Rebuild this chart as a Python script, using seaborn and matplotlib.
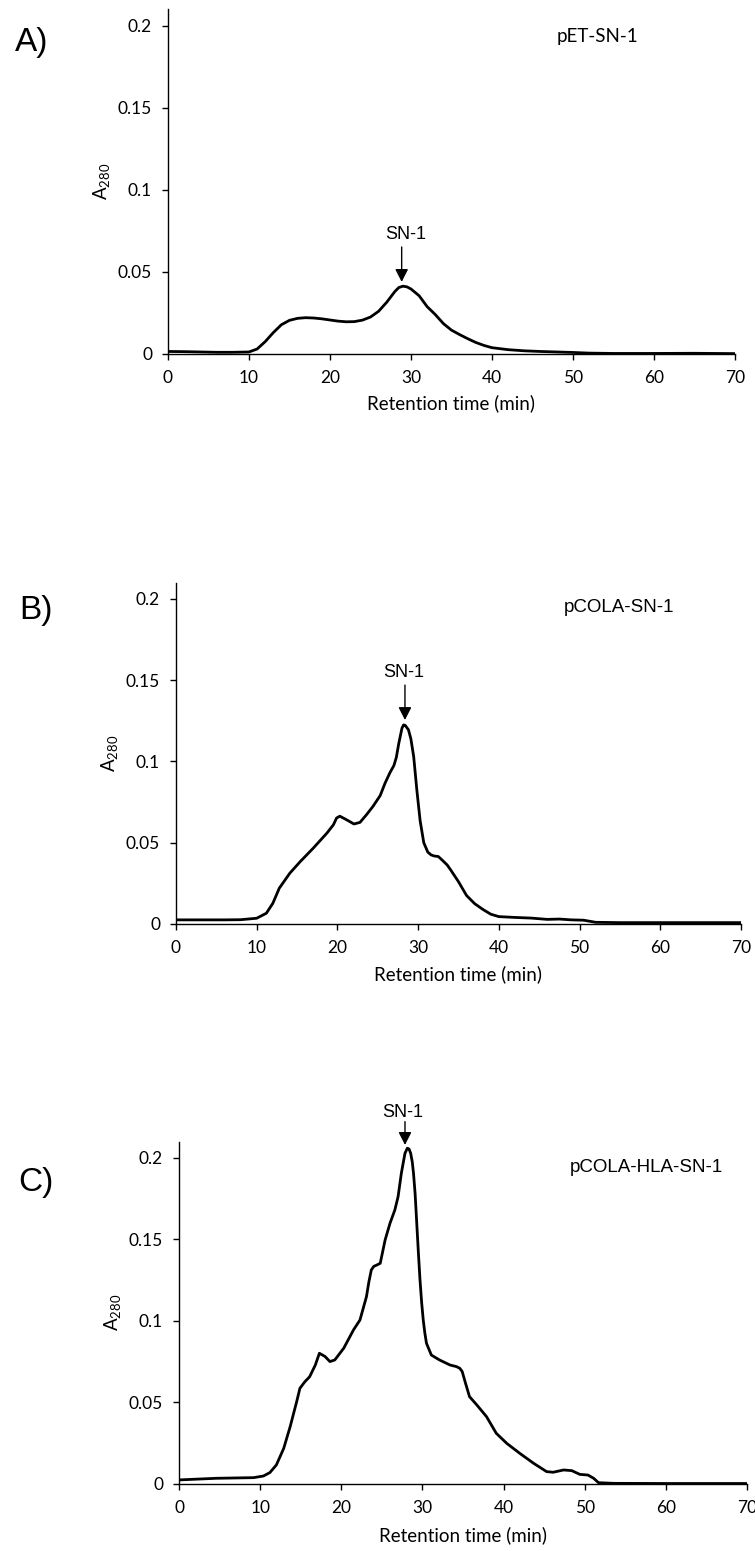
import matplotlib
matplotlib.use("Agg")
import matplotlib.pyplot as plt
from matplotlib.ticker import FuncFormatter
import pandas as pd
import seaborn as sns

# ---- Size-exclusion chromatograms: retention time (min) vs A280 ----
time_pet = [0, 2, 4, 6, 8, 10, 11, 12, 13, 14, 15, 16, 17, 18, 19, 20, 21, 22, 23,
            24, 25, 26, 27, 28, 28.5, 29, 29.5, 30, 31, 32, 33, 34, 35, 36, 37, 38,
            39, 40, 42, 44, 46, 48, 50, 52, 55, 60, 65, 70]
a280_pet = [0.0015, 0.0014, 0.0012, 0.0010, 0.0010, 0.0012, 0.0030, 0.0075, 0.0130,
            0.0178, 0.0205, 0.0217, 0.0221, 0.0219, 0.0214, 0.0207, 0.0200, 0.0196,
            0.0197, 0.0206, 0.0225, 0.0260, 0.0315, 0.0380, 0.0405, 0.0413, 0.0409,
            0.0396, 0.0355, 0.0288, 0.0240, 0.0185, 0.0145, 0.0118, 0.0093, 0.0070,
            0.0052, 0.0038, 0.0026, 0.0019, 0.0015, 0.0012, 0.0009, 0.0005, 0.0003,
            0.0003, 0.0004, 0.0002]

time_cola = [0, 2, 4, 6, 8, 10, 11.2, 12, 12.8, 14.1, 15.4, 17, 18.7, 19.5, 19.9, 20.3,
             21.1, 22.05, 22.8, 23.6, 24.4, 25.3, 25.9, 26.5, 27, 27.3, 27.6, 28.0,
             28.2, 28.4, 28.8, 29.1, 29.45, 29.85, 30.25, 30.7, 31.2, 31.6, 32, 32.5,
             33, 33.6, 34, 35, 36, 37, 38, 39, 40, 42, 44, 46, 47.5, 49, 50.5, 52, 55,
             60, 65, 70]
a280_cola = [0.0025, 0.0025, 0.0025, 0.0025, 0.0026, 0.0035, 0.0066, 0.0127, 0.0220,
             0.0312, 0.0384, 0.0466, 0.0559, 0.0610, 0.0652, 0.0663, 0.0642, 0.0615,
             0.0625, 0.0672, 0.0723, 0.0790, 0.0866, 0.0930, 0.0975, 0.1025, 0.1110,
             0.1205, 0.1225, 0.1222, 0.1195, 0.1140, 0.1030, 0.0820, 0.0635, 0.0500,
             0.0442, 0.0425, 0.0418, 0.0415, 0.0392, 0.0363, 0.0335, 0.0260, 0.0175,
             0.0125, 0.0090, 0.0060, 0.0045, 0.0040, 0.0036, 0.0028, 0.0030, 0.0025,
             0.0023, 0.0010, 0.0008, 0.0008, 0.0008, 0.0008]

time_hla = [0, 4.6, 9.2, 10.4, 11.2, 12, 12.9, 13.7, 14.5, 14.9, 15.5, 16.1, 16.8,
            17.3, 18, 18.6, 19.2, 20.3, 21.5, 22.3, 23.1, 23.4, 23.7, 24.0, 24.4, 24.8,
            25.4, 26, 26.6, 27, 27.4, 27.65, 27.85, 28.14, 28.35, 28.55, 28.75, 28.9,
            29.1, 29.3, 29.5, 29.7, 29.9, 30.1, 30.3, 30.5, 31.1, 32.1, 33.4, 34.2,
            34.6, 34.9, 35.3, 35.8, 36.7, 37.9, 39.1, 40.4, 42, 43.7, 45.3, 46.1, 47.4,
            48.4, 49.4, 50.4, 51.1, 51.7, 53.6, 60, 65, 70]
a280_hla = [0.0025, 0.0035, 0.0039, 0.0049, 0.0070, 0.0117, 0.0218, 0.0352, 0.0505,
            0.0587, 0.0627, 0.0658, 0.0730, 0.0802, 0.0782, 0.0751, 0.0761, 0.0833,
            0.0945, 0.1006, 0.1149, 0.1240, 0.1313, 0.1335, 0.1344, 0.1354, 0.1497,
            0.1599, 0.1681, 0.1763, 0.1906, 0.1975, 0.2029, 0.2060, 0.2055, 0.2029,
            0.1975, 0.1906, 0.1780, 0.1599, 0.1420, 0.1252, 0.1115, 0.1006, 0.0925,
            0.0863, 0.0791, 0.0761, 0.0730, 0.0720, 0.0710, 0.0690, 0.0620, 0.0536,
            0.0485, 0.0413, 0.0311, 0.0249, 0.0188, 0.0127, 0.0076, 0.0072, 0.0086,
            0.0082, 0.0059, 0.0055, 0.0035, 0.0008, 0.0004, 0.0003, 0.0003, 0.0003]

constructs = ["pET-SN-1", "pCOLA-SN-1", "pCOLA-HLA-SN-1"]
panel_letters = ["A)", "B)", "C)"]
peak_name = "SN-1"
x_ticks = [0, 10, 20, 30, 40, 50, 60, 70]
y_ticks = [0, 0.05, 0.1, 0.15, 0.2]
x_label = "Retention time (min)"
y_label = r"$\mathregular{A_{280}}$"

series = [(time_pet, a280_pet), (time_cola, a280_cola), (time_hla, a280_hla)]

# ---- layout ----
W, H = 755, 1551
axes_rects = [
    (0.2225, 0.7718, 0.7510, 0.2221),
    (0.2331, 0.4043, 0.7483, 0.2200),
    (0.2371, 0.0432, 0.7523, 0.2207),
]
letter_pos = [(0.042, 0.9729), (0.0483, 0.6061), (0.047, 0.2379)]
construct_pos = [(53.0, 0.1904), (54.9, 0.1922), (57.6, 0.1916)]
construct_font = ["Lato", "Liberation Sans", "Liberation Sans"]
peak_text_pos = [(29.38, 0.0699), (28.27, 0.1518), (27.54, 0.2253)]
arrow_xy = [((28.85, 0.0652), (28.85, 0.0439)),
            ((28.37, 0.1470), (28.37, 0.1255)),
            ((27.85, 0.2223), (27.85, 0.2080))]
xlabel_y = [-0.160, -0.165, -0.168]

sns.set_style("ticks")
plt.rcParams["font.family"] = ["Lato", "DejaVu Sans"]
plt.rcParams["mathtext.default"] = "regular"

fig = plt.figure(figsize=(W / 100, H / 100), dpi=100)
fig.patch.set_facecolor("white")

tick_fmt = FuncFormatter(lambda v, _: f"{v:g}")

for i, (t, a) in enumerate(series):
    ax = fig.add_axes(axes_rects[i])
    df = pd.DataFrame({"time": t, "a280": a})
    sns.lineplot(data=df, x="time", y="a280", ax=ax, color="black", lw=2.0,
                 estimator=None, sort=False)
    ax.lines[-1].set_solid_joinstyle("round")
    ax.set_xlim(0, 70)
    ax.set_ylim(0, 0.21)
    ax.set_xticks(x_ticks)
    ax.set_yticks(y_ticks)
    ax.yaxis.set_major_formatter(tick_fmt)
    ax.xaxis.set_major_formatter(tick_fmt)
    sns.despine(ax=ax)
    for side in ("left", "bottom"):
        ax.spines[side].set_color("black")
        ax.spines[side].set_linewidth(1.0)
    ax.tick_params(direction="out", length=4, width=1.0, color="black",
                   labelsize=12.5, labelcolor="black", pad=7.5)
    ax.set_facecolor("white")

    ax.set_xlabel(x_label, fontsize=13.5, color="black")
    ax.xaxis.set_label_coords(0.5, xlabel_y[i])
    ax.xaxis.label.set_va("baseline")
    ax.set_ylabel(y_label, fontsize=13.5, color="black")
    ax.yaxis.set_label_coords(-0.099, 0.5)

    ax.text(*construct_pos[i], constructs[i], ha="center", va="baseline",
            fontsize=13.5, family=construct_font[i], color="black")
    ax.text(*peak_text_pos[i], peak_name, ha="center", va="baseline",
            fontsize=13, family="Liberation Sans", color="black", clip_on=False)
    ax.annotate("", xy=arrow_xy[i][1], xytext=arrow_xy[i][0],
                arrowprops=dict(arrowstyle="-|>,head_length=0.55,head_width=0.28",
                                color="black", lw=1.0, shrinkA=0, shrinkB=0,
                                mutation_scale=14),
                annotation_clip=False)
    fig.text(*letter_pos[i], panel_letters[i], ha="center", va="center",
             fontsize=24, family="Liberation Sans", color="black")

fig.savefig("out.png", dpi=100, facecolor="white")
